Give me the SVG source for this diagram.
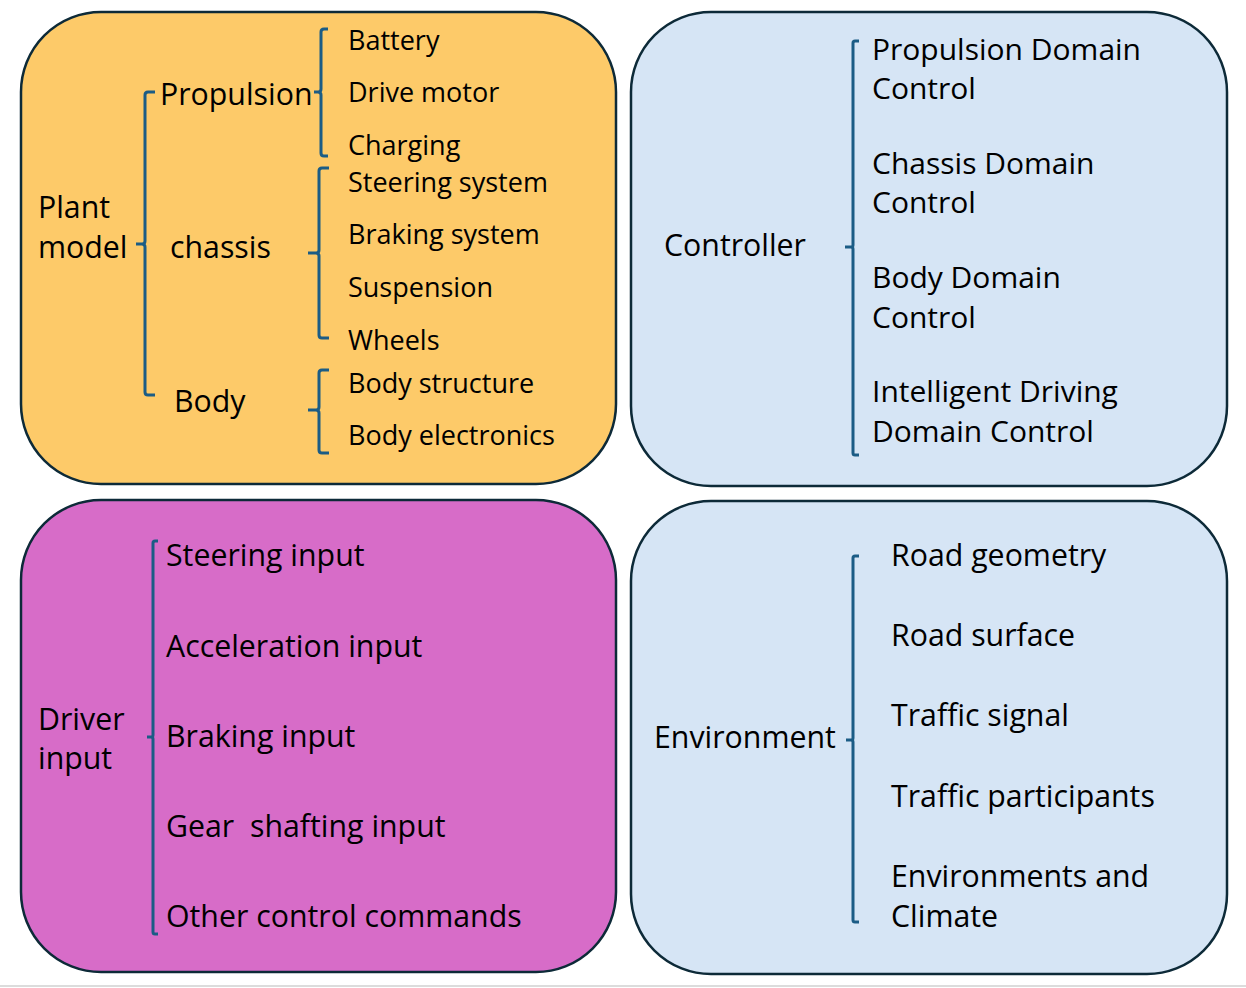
<svg xmlns="http://www.w3.org/2000/svg" width="1246" height="988" viewBox="0 0 1246 988">
<style>
.box{stroke:#0d2a38;stroke-width:2.5}
.big{font-family:"Open Sans","Liberation Sans",sans-serif;font-size:30.3px;fill:#000}
.sm{font-family:"Open Sans","Liberation Sans",sans-serif;font-size:27px;fill:#000}
.md{font-family:"Open Sans","Liberation Sans",sans-serif;font-size:30px;fill:#000}
.br{fill:none;stroke:#1b5c85;stroke-width:3;stroke-linejoin:round;stroke-linecap:butt}
</style>
<rect width="1246" height="988" fill="#ffffff"/>
<line x1="0" y1="986" x2="1246" y2="986" stroke="#d0d0d0" stroke-width="1.5"/>

<g id="plant">
<rect class="box" x="21" y="12" width="595" height="472" rx="80" ry="80" fill="#fdca69"/>
<text class="big" x="38" y="218">Plant</text>
<text class="big" x="38" y="258">model</text>
<text class="big" x="160" y="105">Propulsion</text>
<text class="big" x="170" y="258">chassis</text>
<text class="big" x="174" y="412">Body</text>
<text class="sm" x="348" y="50">Battery</text>
<text class="sm" x="348" y="102">Drive motor</text>
<text class="sm" x="348" y="155">Charging</text>
<text class="sm" x="348" y="192">Steering system</text>
<text class="sm" x="348" y="244">Braking system</text>
<text class="sm" x="348" y="297">Suspension</text>
<text class="sm" x="348" y="350">Wheels</text>
<text class="sm" x="348" y="393">Body structure</text>
<text class="sm" x="348" y="445">Body electronics</text>
</g>

<g id="controller">
<rect class="box" x="631" y="12" width="596" height="474" rx="80" ry="80" fill="#d6e5f5"/>
<text class="big" x="664" y="256">Controller</text>
<text class="md" x="872" y="60">Propulsion Domain</text>
<text class="md" x="872" y="99">Control</text>
<text class="md" x="872" y="174">Chassis Domain</text>
<text class="md" x="872" y="213">Control</text>
<text class="md" x="872" y="288">Body Domain</text>
<text class="md" x="872" y="328">Control</text>
<text class="md" x="872" y="402">Intelligent Driving</text>
<text class="md" x="872" y="442">Domain Control</text>
</g>

<g id="driver">
<rect class="box" x="21" y="500" width="595" height="472" rx="80" ry="80" fill="#d76cc8"/>
<text class="big" x="38" y="730">Driver</text>
<text class="big" x="38" y="769">input</text>
<text class="big" x="166" y="566">Steering input</text>
<text class="big" x="166" y="657">Acceleration input</text>
<text class="big" x="166" y="747">Braking input</text>
<text class="big" x="166" y="837" xml:space="preserve">Gear  shafting input</text>
<text class="big" x="166" y="927">Other control commands</text>
</g>

<g id="environment">
<rect class="box" x="631" y="501" width="596" height="473" rx="80" ry="80" fill="#d6e5f5"/>
<text class="big" x="654" y="748">Environment</text>
<text class="big" x="891" y="566">Road geometry</text>
<text class="big" x="891" y="646">Road surface</text>
<text class="big" x="891" y="726">Traffic signal</text>
<text class="big" x="891" y="807">Traffic participants</text>
<text class="big" x="891" y="887">Environments and</text>
<text class="big" x="891" y="927">Climate</text>
</g>

<g id="connectors">
<path class="br" d="M155,92 H148 Q145,92 145,95 V241 Q145,244 142,244 H136 M142,244 Q145,244 145,247 V392 Q145,395 148,395 H155"/>
<path class="br" d="M328,29 H324 Q321,29 321,32 V89 Q321,92 318,92 H314 M318,92 Q321,92 321,95 V153 Q321,156 324,156 H328"/>
<path class="br" d="M329,168 H322 Q319,168 319,171 V250 Q319,253 316,253 H308 M316,253 Q319,253 319,256 V335 Q319,338 322,338 H329"/>
<path class="br" d="M329,370 H322 Q319,370 319,373 V407 Q319,410 316,410 H308 M316,410 Q319,410 319,413 V450 Q319,453 322,453 H329"/>
<path class="br" d="M859,41 H855 Q853,41 853,43 V245 Q853,247 851,247 H845 M851,247 Q853,247 853,249 V453 Q853,455 855,455 H859"/>
<path class="br" d="M158,541 H155 Q153,541 153,543 V735 Q153,737 151,737 H147 M151,737 Q153,737 153,739 V932 Q153,934 155,934 H158"/>
<path class="br" d="M859,556 H855 Q853,556 853,558 V738 Q853,740 851,740 H846 M851,740 Q853,740 853,742 V920 Q853,922 855,922 H859"/>
</g>
</svg>
